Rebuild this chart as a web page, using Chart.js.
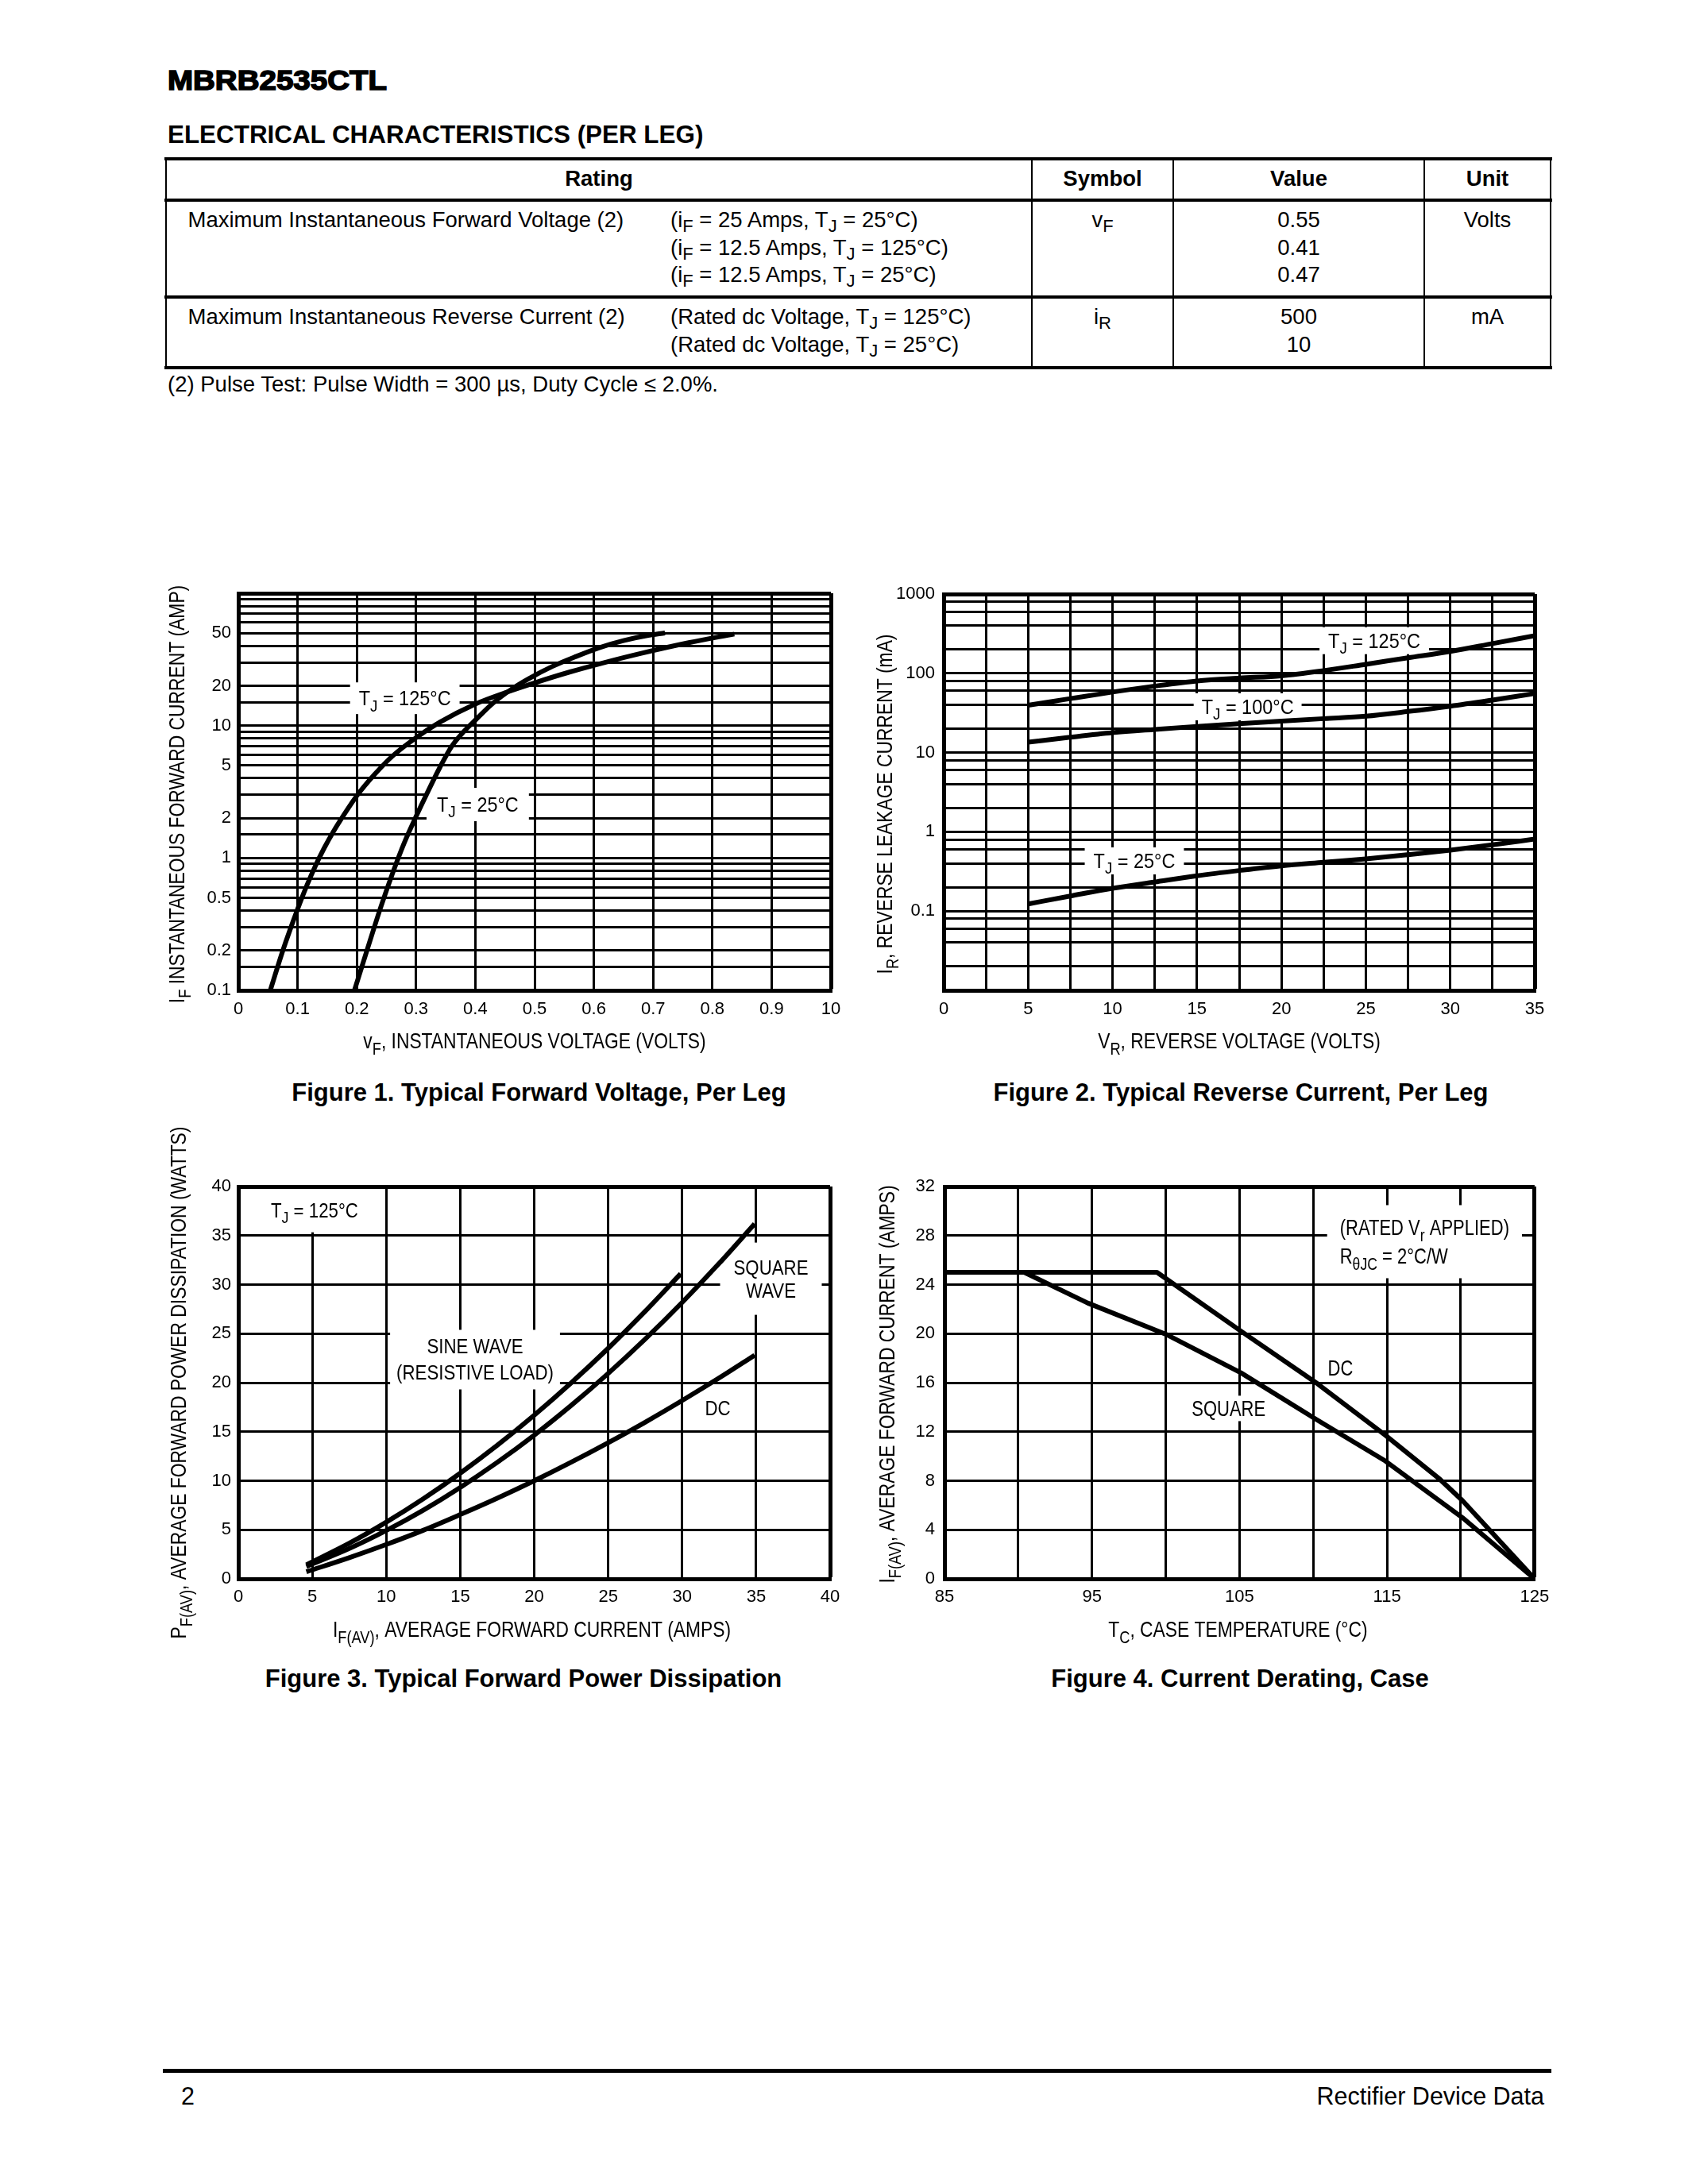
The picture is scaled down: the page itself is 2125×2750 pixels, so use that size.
<!DOCTYPE html>
<html lang="en">
<head>
<meta charset="utf-8">
<title>MBRB2535CTL</title>
<script src="https://cdn.jsdelivr.net/npm/chart.js@4.4.1/dist/chart.umd.min.js"></script>
<style>
  html, body { margin: 0; padding: 0; background: #fff; }
  body { position: relative; width: 2125px; height: 2750px; overflow: hidden; color: #000;
         font-family: "Liberation Sans", Arial, Helvetica, sans-serif; }
  .t { position: absolute; white-space: nowrap; line-height: 1; }
  .t sub { font-size: 0.8em; vertical-align: -0.25em; line-height: 0; }
  .rule { position: absolute; background: #000; }
  canvas { position: absolute; }
</style>
</head>
<body>
<canvas id="fig1"></canvas>
<canvas id="fig2"></canvas>
<canvas id="fig3"></canvas>
<canvas id="fig4"></canvas>
<script>
// Figure 1 - typical forward voltage, per leg
const fig1VoltsTj125 = [0.054, 0.075, 0.100, 0.115, 0.130, 0.145, 0.160, 0.180, 0.200, 0.230, 0.260, 0.300, 0.340, 0.400, 0.450, 0.500, 0.560, 0.620, 0.680, 0.760, 0.837];
const fig1AmpsTj125 = [0.10, 0.199, 0.41, 0.61, 0.87, 1.19, 1.57, 2.18, 2.95, 4.28, 5.88, 8.11, 10.6, 14.56, 17.71, 21.05, 25.47, 30.15, 35.19, 42.31, 49.2];
const fig1VoltsTj25 = [0.196, 0.220, 0.240, 0.260, 0.280, 0.300, 0.320, 0.340, 0.360, 0.380, 0.400, 0.430, 0.460, 0.490, 0.530, 0.570, 0.610, 0.650, 0.690, 0.720];
const fig1AmpsTj25 = [0.10, 0.22, 0.42, 0.76, 1.30, 2.06, 3.18, 4.82, 6.97, 8.97, 11.0, 14.8, 18.7, 22.6, 28.0, 33.3, 38.9, 43.9, 47.9, 50.1];
const fig1VoltTicks = [0, 0.1, 0.2, 0.3, 0.4, 0.5, 0.6, 0.7, 0.8, 0.9, 1.0];
const fig1VoltLabels = ['0', '0.1', '0.2', '0.3', '0.4', '0.5', '0.6', '0.7', '0.8', '0.9', '10'];
const fig1AmpGrid = [0.1, 0.15, 0.2, 0.3, 0.4, 0.5, 0.6, 0.7, 0.8, 0.9, 1, 1.5, 2, 3, 4, 5, 6, 7, 8, 9,
                     10, 15, 20, 30, 40, 50, 60, 70, 80, 90, 100];
const fig1AmpTicks = [0.1, 0.2, 0.5, 1, 2, 5, 10, 20, 50];
const fig1AmpLabels = ['0.1', '0.2', '0.5', '1', '2', '5', '10', '20', '50'];

// Figure 2 - typical reverse current, per leg
const fig2Volts = [5, 7.5, 10, 12.5, 15, 17.5, 20, 22.5, 25, 27.5, 30, 32.5, 35];
const fig2MaTj125 = [39.5, 48, 58, 69, 80, 87, 93, 108, 130, 157, 189, 237, 298];
const fig2MaTj100 = [13.5, 15.6, 17.8, 19.6, 21.4, 23.1, 24.9, 26.8, 28.8, 33, 38.5, 46, 55.5];
const fig2MaTj25 = [0.123, 0.155, 0.194, 0.233, 0.279, 0.325, 0.373, 0.413, 0.456, 0.515, 0.588, 0.685, 0.81];
const fig2VoltGrid = [0, 2.5, 5, 7.5, 10, 12.5, 15, 17.5, 20, 22.5, 25, 27.5, 30, 32.5, 35];
const fig2VoltTicks = [0, 5, 10, 15, 20, 25, 30, 35];
const fig2VoltLabels = ['0', '5', '10', '15', '20', '25', '30', '35'];
const fig2MaGrid = [0.01, 0.02, 0.04, 0.06, 0.08, 0.1, 0.2, 0.4, 0.6, 0.8, 1, 2, 4, 6, 8,
                    10, 20, 40, 60, 80, 100, 200, 400, 600, 800, 1000];
const fig2MaTicks = [0.1, 1, 10, 100, 1000];
const fig2MaLabels = ['0.1', '1', '10', '100', '1000'];

// Figure 3 - typical forward power dissipation
const fig3AmpsSine = [4.6, 7.5, 10, 12.5, 15, 17.5, 20, 22.5, 25, 27.5, 29.9];
const fig3WattsSine = [1.43, 3.63, 5.78, 8.16, 10.77, 13.61, 16.68, 19.98, 23.5, 27.27, 31.1];
const fig3AmpsSquare = [4.6, 7.5, 10, 12.5, 15, 17.5, 20, 22.5, 25, 27.5, 30, 32.5, 34.9];
const fig3WattsSquare = [1.26, 3.09, 4.93, 7.0, 9.32, 11.87, 14.65, 17.68, 20.94, 24.44, 28.18, 32.16, 36.2];
const fig3AmpsDc = [4.6, 7.5, 10, 12.5, 15, 17.5, 20, 22.5, 25, 27.5, 30, 32.5, 34.9];
const fig3WattsDc = [0.72, 2.16, 3.5, 4.95, 6.55, 8.22, 10.0, 11.89, 13.88, 15.97, 18.18, 20.48, 22.8];
const fig3Ticks = [0, 5, 10, 15, 20, 25, 30, 35, 40];
const fig3Labels = ['0', '5', '10', '15', '20', '25', '30', '35', '40'];

// Figure 4 - current derating, case
const fig4TempDc = [85, 99.4, 105.1, 110.3, 114.9, 118.6, 120.1, 125];
const fig4AmpsDc = [25, 25, 20.2, 15.9, 11.7, 8.1, 6.4, 0];
const fig4TempSquare = [85, 90.4, 94.7, 100.1, 105.1, 110.2, 114.9, 120.1, 125];
const fig4AmpsSquare = [25, 25, 22.5, 19.9, 16.8, 13.0, 9.6, 5.0, 0];
const fig4TempGrid = [85, 90, 95, 100, 105, 110, 115, 120, 125];
const fig4TempTicks = [85, 95, 105, 115, 125];
const fig4TempLabels = ['85', '95', '105', '115', '125'];
const fig4AmpTicks = [0, 4, 8, 12, 16, 20, 24, 28, 32];
const fig4AmpLabels = ['0', '4', '8', '12', '16', '20', '24', '28', '32'];

const BASE_FONT = '"Liberation Sans", Arial, Helvetica, sans-serif';

function hasFont(name) {
  const c = document.createElement('canvas').getContext('2d');
  const s = 'abcdefghijklmnopqrstuvwxyz ABCDEFGHIJ 0123456789';
  c.font = '40px monospace';
  const a = c.measureText(s).width;
  c.font = '40px "' + name + '", monospace';
  return Math.abs(c.measureText(s).width - a) > 0.5;
}
const NARROW = hasFont('Liberation Sans Narrow');
const TICK_FONT = NARROW ? '"Liberation Sans Narrow"' : BASE_FONT;
const TICK_SIZE = NARROW ? 25.5 : 22;
const TITLE_SIZE = 27.5, TITLE_SX = 0.83;

// page text, positioned by baseline
function put(s, x, base, size, o = {}) {
  const d = document.createElement('div');
  d.className = 't';
  d.innerHTML = s.replace(/_\{([^}]*)\}/g, '<sub>$1</sub>');
  d.style.left = x + 'px';
  d.style.top = (base - 0.8465 * size) + 'px';
  d.style.fontSize = size + 'px';
  if (o.bold) d.style.fontWeight = 'bold';
  let tf = '';
  if (o.align === 'center') tf = 'translateX(-50%)';
  if (o.align === 'right') tf = 'translateX(-100%)';
  if (o.sx) { tf += ' scaleX(' + o.sx + ')'; d.style.transformOrigin = '0 0'; }
  if (tf) d.style.transform = tf;
  if (o.stroke) d.style.webkitTextStroke = o.stroke + 'px #000';
  document.body.appendChild(d);
}
function rule(x, y, w, h) {
  const d = document.createElement('div');
  d.className = 'rule';
  Object.assign(d.style, { left: x + 'px', top: y + 'px', width: w + 'px', height: h + 'px' });
  document.body.appendChild(d);
}

put('MBRB2535CTL', 211, 113, 35, { bold: true, stroke: 1.6, sx: 1.1 });
put('ELECTRICAL CHARACTERISTICS (PER LEG)', 211, 180.5, 31.4, { bold: true });

// table frame
[200, 252, 374, 463].forEach(y => rule(207, y - 2, 1747, 4));
[209, 1299, 1477, 1793, 1952].forEach(x => rule(x - 1.25, 200, 2.5, 263));

put('Rating', 754, 234, 27.5, { bold: true, align: 'center' });
put('Symbol', 1388, 234, 27.5, { bold: true, align: 'center' });
put('Value', 1635, 234, 27.5, { bold: true, align: 'center' });
put('Unit', 1872.5, 234, 27.5, { bold: true, align: 'center' });

put('Maximum Instantaneous Forward Voltage (2)', 236.5, 286.5, 27.5);
put('(i_{F} = 25 Amps, T_{J} = 25°C)', 844, 286.5, 27.5);
put('(i_{F} = 12.5 Amps, T_{J} = 125°C)', 844, 321.5, 27.5);
put('(i_{F} = 12.5 Amps, T_{J} = 25°C)', 844, 355.5, 27.5);
put('v_{F}', 1388, 286.5, 27.5, { align: 'center' });
put('0.55', 1635, 286.5, 27.5, { align: 'center' });
put('0.41', 1635, 321.5, 27.5, { align: 'center' });
put('0.47', 1635, 355.5, 27.5, { align: 'center' });
put('Volts', 1872.5, 286.5, 27.5, { align: 'center' });

put('Maximum Instantaneous Reverse Current (2)', 236.5, 408.5, 27.5);
put('(Rated dc Voltage, T_{J} = 125°C)', 844, 408.5, 27.5);
put('(Rated dc Voltage, T_{J} = 25°C)', 844, 443.5, 27.5);
put('i_{R}', 1388, 408.5, 27.5, { align: 'center' });
put('500', 1635, 408.5, 27.5, { align: 'center' });
put('10', 1635, 443.5, 27.5, { align: 'center' });
put('mA', 1872.5, 408.5, 27.5, { align: 'center' });

put('(2) Pulse Test: Pulse Width = 300 µs, Duty Cycle ≤ 2.0%.', 211, 493, 27.5);

put('Figure 1. Typical Forward Voltage, Per Leg', 678.5, 1386, 31, { bold: true, align: 'center' });
put('Figure 2. Typical Reverse Current, Per Leg', 1562, 1386, 31, { bold: true, align: 'center' });
put('Figure 3. Typical Forward Power Dissipation', 659, 2124, 31, { bold: true, align: 'center' });
put('Figure 4. Current Derating, Case', 1561, 2124, 31, { bold: true, align: 'center' });

rule(205, 2604.5, 1748, 5);
put('2', 228, 2650, 30.5);
put('Rectifier Device Data', 1944, 2650, 30.5, { align: 'right' });

// canvas text with _{sub} parts
function textParts(s) {
  const out = [], re = /_\{([^}]*)\}/g;
  let last = 0, m;
  while ((m = re.exec(s))) {
    if (m.index > last) out.push({ t: s.slice(last, m.index), sub: false });
    out.push({ t: m[1], sub: true });
    last = re.lastIndex;
  }
  if (last < s.length) out.push({ t: s.slice(last), sub: false });
  return out;
}
function textWidth(ctx, s, size) {
  return textParts(s).reduce((w, p) => {
    ctx.font = (p.sub ? size * 0.8 : size) + 'px ' + BASE_FONT;
    return w + ctx.measureText(p.t).width;
  }, 0);
}
function drawText(ctx, s, x, y, size, sx, align, rotate) {
  const w = textWidth(ctx, s, size);
  ctx.save();
  ctx.translate(x, y);
  if (rotate) ctx.rotate(-Math.PI / 2);
  ctx.scale(sx, 1);
  ctx.fillStyle = '#000';
  ctx.textAlign = 'left';
  ctx.textBaseline = 'alphabetic';
  let cx = align === 'left' ? 0 : -w / 2;
  for (const p of textParts(s)) {
    ctx.font = (p.sub ? size * 0.8 : size) + 'px ' + BASE_FONT;
    ctx.fillText(p.t, cx, size * 0.36 + (p.sub ? size * 0.28 : 0));
    cx += ctx.measureText(p.t).width;
  }
  ctx.restore();
}

// white label boxes under the curves, and the axis titles
function extras(notes, titles, ns) {
  return {
    id: 'extras',
    beforeDatasetsDraw(chart) {
      const { ctx, chartArea: a } = chart;
      const xs = chart.scales.x, ys = chart.scales.y;
      for (const n of notes) {
        const px = xs.getPixelForValue(n.x), py = ys.getPixelForValue(n.y);
        const lh = n.lh || 32;
        const w = Math.max(...n.lines.map(s => textWidth(ctx, s, ns.size))) * ns.sx;
        const h = (n.lines.length - 1) * lh;
        const left = n.align === 'left' ? px : px - w / 2;
        const x0 = Math.max(a.left + 3, left - n.padX), x1 = Math.min(a.right - 3, left + w + n.padX);
        const y0 = Math.max(a.top + 3, py - h / 2 - n.padY), y1 = Math.min(a.bottom - 3, py + h / 2 + n.padY);
        ctx.fillStyle = '#fff';
        ctx.fillRect(x0, y0, x1 - x0, y1 - y0);
        n.lines.forEach((s, i) => drawText(ctx, s, px, py - h / 2 + i * lh, ns.size, ns.sx, n.align, false));
      }
    },
    afterDraw(chart) {
      const { ctx, chartArea: a } = chart;
      drawText(ctx, titles.x, (a.left + a.right) / 2 + (titles.dx || 0), a.bottom + titles.xOff, TITLE_SIZE, TITLE_SX, 'center', false);
      drawText(ctx, titles.y, a.left - titles.yOff, (a.top + a.bottom) / 2 + (titles.dy || 0), TITLE_SIZE, TITLE_SX, 'center', true);
    }
  };
}

function axis(o) {
  const near = (u, v) => Math.abs(u - v) < 1e-6 * Math.max(1, Math.abs(u));
  return {
    type: o.type || 'linear', min: o.min, max: o.max,
    afterBuildTicks: s => { s.ticks = o.grid.map(v => ({ value: v })); },
    afterFit: s => { if (o.horizontal) s.height = o.fit; else s.width = o.fit; },
    ticks: {
      autoSkip: false, maxRotation: 0, minRotation: 0, color: '#000',
      padding: o.horizontal ? o.pad - TICK_SIZE * 0.6 : o.pad,
      font: { family: TICK_FONT, size: TICK_SIZE },
      callback: v => {
        const i = o.ticks.findIndex(u => near(u, v));
        return i < 0 ? '' : o.labels[i];
      }
    },
    grid: { color: '#000', drawTicks: false, lineWidth: c => (c.tick && near(o.max, c.tick.value)) ? 5 : 3 },
    border: { color: '#000', width: 5 }
  };
}

function curve(xs, ys, smooth) {
  return {
    data: xs.map((x, i) => ({ x, y: ys[i] })),
    borderColor: '#000', borderWidth: 6, pointRadius: 0, fill: false,
    cubicInterpolationMode: smooth ? 'monotone' : 'default', tension: 0,
    borderJoinStyle: 'round', borderCapStyle: 'butt'
  };
}

function makeChart(id, rect, plot, xAx, yAx, datasets, notes, titles, ns) {
  const cv = document.getElementById(id);
  cv.width = rect.w; cv.height = rect.h;
  cv.style.left = rect.x + 'px'; cv.style.top = rect.y + 'px';
  xAx.horizontal = true;
  xAx.fit = rect.y + rect.h - plot.B;
  yAx.fit = plot.L - rect.x;
  return new Chart(cv.getContext('2d'), {
    type: 'line',
    data: { datasets },
    options: {
      responsive: false, animation: false, events: [],
      layout: { padding: { left: 0, top: plot.T - rect.y, right: rect.x + rect.w - plot.R, bottom: 0 } },
      plugins: { legend: { display: false }, tooltip: { enabled: false } },
      scales: { x: axis(xAx), y: axis(yAx) }
    },
    plugins: [extras(notes, titles, ns)]
  });
}

makeChart('fig1', { x: 200, y: 720, w: 870, h: 620 }, { L: 300, T: 747, R: 1046, B: 1247 },
  { min: 0, max: 1, grid: fig1VoltTicks, ticks: fig1VoltTicks, labels: fig1VoltLabels, pad: 24 },
  { type: 'logarithmic', min: 0.1, max: 100, grid: fig1AmpGrid, ticks: fig1AmpTicks, labels: fig1AmpLabels, pad: 9 },
  [curve(fig1VoltsTj125, fig1AmpsTj125, true), curve(fig1VoltsTj25, fig1AmpsTj25, true)],
  [{ x: 0.281, y: 16.1, lines: ['T_{J} = 125°C'], padX: 11, padY: 20 },
   { x: 0.404, y: 2.535, lines: ['T_{J} = 25°C'], padX: 13, padY: 21 }],
  { x: 'v_{F}, INSTANTANEOUS VOLTAGE (VOLTS)', xOff: 63.5, y: 'I_{F} INSTANTANEOUS FORWARD CURRENT (AMP)', yOff: 78, dy: 3 },
  { size: 25.5, sx: 0.92 });

makeChart('fig2', { x: 1080, y: 720, w: 880, h: 620 }, { L: 1188, T: 748, R: 1932, B: 1247 },
  { min: 0, max: 35, grid: fig2VoltGrid, ticks: fig2VoltTicks, labels: fig2VoltLabels, pad: 24 },
  { type: 'logarithmic', min: 0.01, max: 1000, grid: fig2MaGrid, ticks: fig2MaTicks, labels: fig2MaLabels, pad: 11 },
  [curve(fig2Volts, fig2MaTj125, true), curve(fig2Volts, fig2MaTj100, true), curve(fig2Volts, fig2MaTj25, true)],
  [{ x: 25.5, y: 258, lines: ['T_{J} = 125°C'], padX: 11, padY: 17 },
   { x: 18.0, y: 37.8, lines: ['T_{J} = 100°C'], padX: 10, padY: 17 },
   { x: 11.29, y: 0.43, lines: ['T_{J} = 25°C'], padX: 11, padY: 17 }],
  { x: 'V_{R}, REVERSE VOLTAGE (VOLTS)', xOff: 63.5, y: 'I_{R}, REVERSE LEAKAGE CURRENT (mA)', yOff: 75, dy: 15 },
  { size: 25.5, sx: 0.92 });

makeChart('fig3', { x: 200, y: 1400, w: 870, h: 680 }, { L: 300, T: 1494, R: 1045, B: 1988 },
  { min: 0, max: 40, grid: fig3Ticks, ticks: fig3Ticks, labels: fig3Labels, pad: 23 },
  { min: 0, max: 40, grid: fig3Ticks, ticks: fig3Ticks, labels: fig3Labels, pad: 9 },
  [curve(fig3AmpsSine, fig3WattsSine, true), curve(fig3AmpsSquare, fig3WattsSquare, true), curve(fig3AmpsDc, fig3WattsDc, true)],
  [{ x: 5.15, y: 37.6, lines: ['T_{J} = 125°C'], padX: 12, padY: 28 },
   { x: 16.0, y: 22.35, lines: ['SINE WAVE', '(RESISTIVE LOAD)'], lh: 33, padX: 8, padY: 21 },
   { x: 36.0, y: 30.6, lines: ['SQUARE', 'WAVE'], lh: 29, padX: 17, padY: 31 },
   { x: 32.4, y: 17.4, lines: ['DC'], padX: 8, padY: 15 }],
  { x: 'I_{F(AV)}, AVERAGE FORWARD CURRENT (AMPS)', xOff: 63, dx: -3, y: 'P_{F(AV)}, AVERAGE FORWARD POWER DISSIPATION (WATTS)', yOff: 76, dy: 0 },
  { size: 25, sx: 0.89 });

makeChart('fig4', { x: 1080, y: 1400, w: 880, h: 680 }, { L: 1189, T: 1494, R: 1932, B: 1988 },
  { min: 85, max: 125, grid: fig4TempGrid, ticks: fig4TempTicks, labels: fig4TempLabels, pad: 23 },
  { min: 0, max: 32, grid: fig4AmpTicks, ticks: fig4AmpTicks, labels: fig4AmpLabels, pad: 12 },
  [curve(fig4TempDc, fig4AmpsDc, false), curve(fig4TempSquare, fig4AmpsSquare, false)],
  [{ x: 111.8, y: 27.5, lines: ['(RATED V_{r} APPLIED)', 'R_{θJC} = 2°C/W'], lh: 36, align: 'left', padX: 16, padY: 28 },
   { x: 111.84, y: 17.23, lines: ['DC'], padX: 8, padY: 15 },
   { x: 104.26, y: 13.9, lines: ['SQUARE'], padX: 8, padY: 16 }],
  { x: 'T_{C}, CASE TEMPERATURE (°C)', xOff: 63, dx: -2, y: 'I_{F(AV)}, AVERAGE FORWARD CURRENT (AMPS)', yOff: 73, dy: 2 },
  { size: 27.5, sx: 0.8 });
</script>
</body>
</html>
